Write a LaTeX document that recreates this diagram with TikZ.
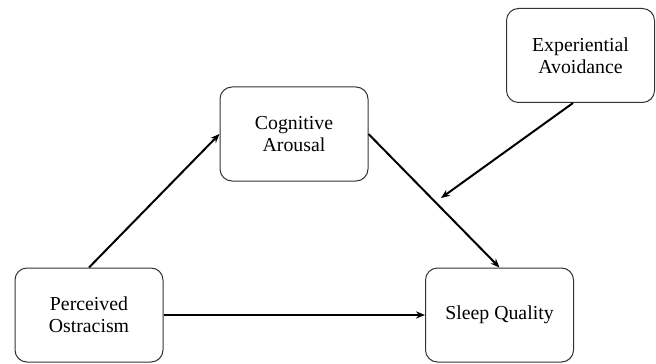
\documentclass[tikz,border=0pt]{standalone}
\usepackage{fontspec}
\setmainfont{Liberation Serif}
\usetikzlibrary{arrows.meta}
\begin{document}
\begin{tikzpicture}[x = 0.5pt,y = -0.5pt,
  varbox/.style = {draw = black!80,line width = 0.5pt,rounded corners = 6pt,
    minimum width = 74pt,minimum height = 47pt,align = center,
    font = \fontsize{9.9}{11}\selectfont},
  path/.style = {line width = 1pt,-{Stealth[length = 4.5pt,width = 3.6pt]}}]
\useasboundingbox (0,0) rectangle (656,363);
\node[varbox] (exp) at (580.5,55.5) {Experiential\\Avoidance};
\node[varbox] (cog) at (294,134) {Cognitive\\Arousal};
\node[varbox] (perc) at (89,315) {Perceived\\Ostracism};
\node[varbox] (sleep) at (499.5,315) {Sleep Quality};
\coordinate (mod) at (441,198);
\draw[path] (perc.north) -- (cog.west);
\draw[path] (cog.east) -- (sleep.north);
\draw[path] (perc.east) -- (sleep.west);
\draw[path] ([xshift = -3.75pt]exp.south) -- (mod);
\end{tikzpicture}
\end{document}
